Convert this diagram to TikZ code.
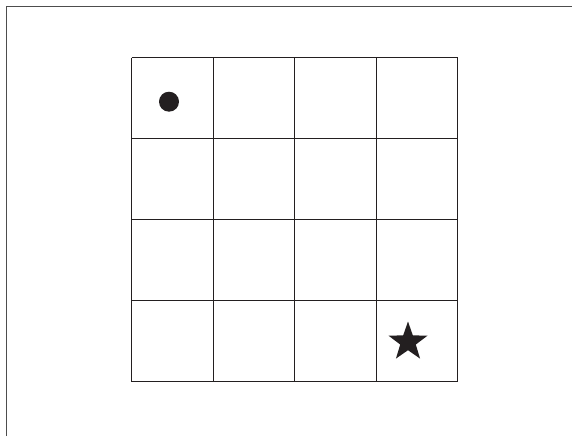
\documentclass[tikz,border=0pt]{standalone}
\usetikzlibrary{shapes.geometric}
\definecolor{ink}{HTML}{231F20}
\definecolor{frame}{HTML}{4D4D4D}
\tikzset{
  gridline/.style={draw=ink, line width=0.9pt},
  frameline/.style={draw=frame, line width=1.8pt},
  agent/.style={circle, fill=ink, inner sep=0pt, minimum size=20pt},
  goal/.style={star, star points=5, star point ratio=2.5, fill=ink, inner sep=0pt, minimum size=41pt}
}
\begin{document}
\begin{tikzpicture}[x=1pt,y=-1pt]
\useasboundingbox (0,0) rectangle (572,436);
\fill[white] (0,0) rectangle (572,436);
\coordinate (fa) at (6.5,436);
\coordinate (fb) at (6.5,6.5);
\coordinate (fc) at (572,6.5);
\draw[frameline] (fa) -- (fb) -- (fc);
\foreach \i in {0,...,4} {
  \draw[gridline] ({131.5+81.5*\i},57.5) -- ({131.5+81.5*\i},381.5);
  \draw[gridline] (131.5,{57.5+81*\i}) -- (457.5,{57.5+81*\i});
}
\node[agent] (agent) at (169,101.7) {};
\node[goal] (goal) at (408,342) {};
\end{tikzpicture}
\end{document}
